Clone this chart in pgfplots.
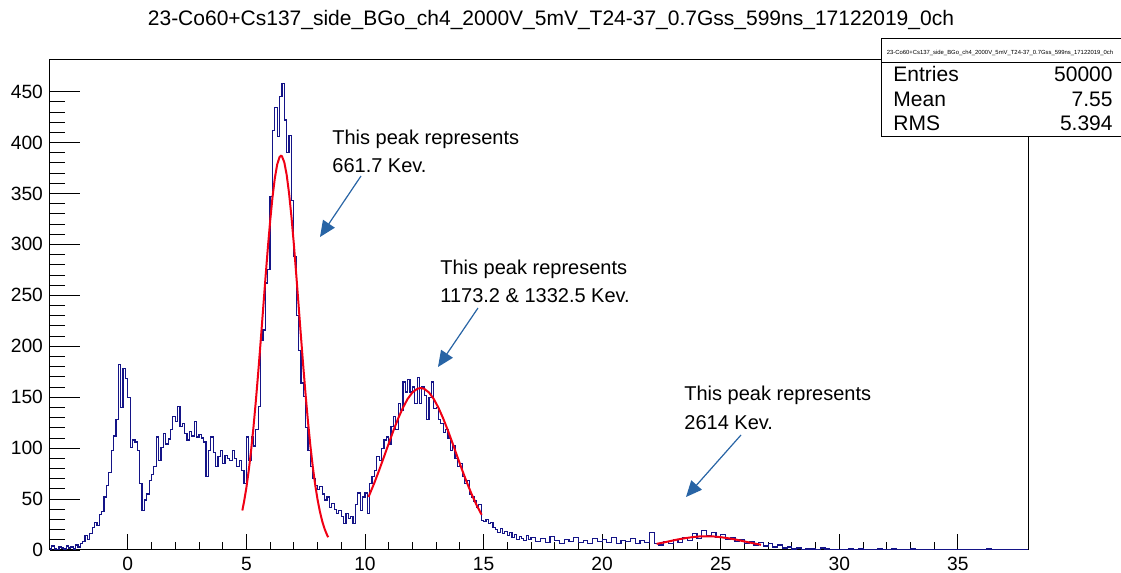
\documentclass[border=0pt]{standalone}
\usepackage{pgfplots}
\pgfplotsset{compat=1.18}
\usepackage{fontspec}
\setmainfont{Liberation Sans}
\usetikzlibrary{arrows.meta}
\definecolor{histblue}{RGB}{20,20,135}
\definecolor{fitred}{RGB}{240,0,20}
\definecolor{arrowblue}{RGB}{40,100,165}

\begin{document}
\begin{tikzpicture}
% 1 px of the reference = 0.5pt
\useasboundingbox (0,0) rectangle (560.5pt,286.5pt);
\begin{axis}[
  at={(25pt,11.5pt)}, anchor=south west,
  scale only axis, width=489.15pt, height=245pt,
  xmin=-3.28, xmax=37.97, ymin=0, ymax=481,
  xtick={0,5,...,35}, ytick={0,50,...,450},
  minor x tick num=4, minor y tick num=4,
  tick align=inside, xtick pos=bottom, ytick pos=left,
  xtick style={black, line width=0.4pt, /pgfplots/major tick length=8pt, /pgfplots/minor tick length=4pt},
  ytick style={black, line width=0.4pt, /pgfplots/major tick length=15pt, /pgfplots/minor tick length=7.5pt},
  tick label style={font=\fontsize{9.6pt}{11pt}\selectfont},
  /pgf/number format/assume math mode=true,
  axis line style={black, line width=0.5pt},
]
% histogram (bin left edges)
\addplot[const plot, histblue, line width=0.6pt] coordinates {
(-3.3,1) (-3.2,4) (-3.1,1) (-3.0,0) (-2.9,3) (-2.8,2) (-2.7,1) (-2.6,4) (-2.5,2) (-2.4,3)
(-2.3,1) (-2.2,5) (-2.1,3) (-2.0,6) (-1.9,8) (-1.8,14) (-1.7,10) (-1.6,16) (-1.5,22) (-1.4,27)
(-1.3,24) (-1.2,35) (-1.1,38) (-1.0,52) (-0.9,63) (-0.8,76) (-0.7,98) (-0.6,112) (-0.5,128) (-0.4,182)
(-0.3,140) (-0.2,178) (-0.1,168) (0.0,150) (0.1,101) (0.2,108) (0.3,106) (0.4,98) (0.5,65) (0.6,39)
(0.7,49) (0.8,55) (0.9,68) (1.0,74) (1.1,82) (1.2,111) (1.3,88) (1.4,101) (1.5,114) (1.6,104)
(1.7,109) (1.8,118) (1.9,131) (2.0,126) (2.1,141) (2.2,121) (2.3,124) (2.4,114) (2.5,108) (2.6,116)
(2.7,112) (2.8,126) (2.9,111) (3.0,113) (3.1,110) (3.2,106) (3.3,72) (3.4,98) (3.5,111) (3.6,96)
(3.7,82) (3.8,92) (3.9,98) (4.0,85) (4.1,93) (4.2,90) (4.3,88) (4.4,98) (4.5,90) (4.6,82)
(4.7,88) (4.8,78) (4.9,65) (5.0,111) (5.1,88) (5.2,111) (5.3,102) (5.4,118) (5.5,141) (5.6,206)
(5.7,216) (5.8,262) (5.9,275) (6.0,347) (6.1,412) (6.2,434) (6.3,406) (6.4,445) (6.5,458) (6.6,422)
(6.7,390) (6.8,407) (6.9,343) (7.0,288) (7.1,230) (7.2,196) (7.3,164) (7.4,151) (7.5,120) (7.6,98)
(7.7,82) (7.8,70) (7.9,63) (8.0,59) (8.1,62) (8.2,55) (8.3,49) (8.4,52) (8.5,42) (8.6,46)
(8.7,40) (8.8,36) (8.9,39) (9.0,33) (9.1,26) (9.2,36) (9.3,31) (9.4,33) (9.5,26) (9.6,45)
(9.7,56) (9.8,39) (9.9,52) (10.0,56) (10.1,36) (10.2,65) (10.3,72) (10.4,78) (10.5,92) (10.6,88)
(10.7,100) (10.8,108) (10.9,111) (11.0,104) (11.1,121) (11.2,131) (11.3,118) (11.4,144) (11.5,137) (11.6,165)
(11.7,155) (11.8,167) (11.9,155) (12.0,160) (12.1,144) (12.2,169) (12.3,144) (12.4,160) (12.5,152) (12.6,128)
(12.7,150) (12.8,165) (12.9,139) (13.0,140) (13.1,128) (13.2,124) (13.3,115) (13.4,118) (13.5,110) (13.6,98)
(13.7,102) (13.8,90) (13.9,82) (14.0,85) (14.1,72) (14.2,65) (14.3,68) (14.4,55) (14.5,52) (14.6,48)
(14.7,42) (14.8,45) (14.9,29) (15.0,28) (15.1,30) (15.2,26) (15.3,27) (15.4,22) (15.5,20) (15.6,17)
(15.7,21) (15.8,16) (15.9,18) (16.0,14) (16.1,17) (16.2,12) (16.3,15) (16.4,10) (16.5,13) (16.6,11)
(16.7,9) (16.8,14) (16.9,10)
(17.0,12) (17.2,8) (17.4,11) (17.6,7) (17.8,13) (18.0,9) (18.2,6) (18.4,10) (18.6,8) (18.8,12)
(19.0,7) (19.2,9) (19.4,6) (19.6,11) (19.8,8) (20.0,10) (20.2,7) (20.4,12) (20.6,6) (20.8,9)
(21.0,8) (21.2,11) (21.4,6) (21.6,9) (21.8,7) (22.0,17) (22.2,6) (22.4,5) (22.6,8) (22.8,6)
(23.0,10) (23.2,7) (23.4,12) (23.6,9) (23.8,16) (24.0,11) (24.2,19) (24.4,14) (24.6,17) (24.8,12)
(25.0,15) (25.2,10) (25.4,12) (25.6,8) (25.8,10) (26.0,6) (26.2,8) (26.4,5) (26.6,7) (26.8,4)
(27.0,6) (27.2,3) (27.4,5) (27.6,2) (27.8,3) (28.0,1) (28.2,2) (28.4,0) (28.6,1) (28.8,1)
(29.0,0) (29.2,2) (29.4,1) (29.6,0) (30.4,1) (30.6,0) (30.8,1) (31.0,0) (31.6,1) (31.8,0)
(32.2,1) (32.4,0) (33.0,1) (33.2,0) (36.2,1) (36.4,0) (37.97,0)
};
% gaussian fits
\addplot[fitred, line width=1pt] coordinates {
(4.83,38.8) (4.9,47.1) (5.0,61.1) (5.1,78.1) (5.2,97.9) (5.3,120.7) (5.4,146.3) (5.5,174.3)
(5.6,204.0) (5.7,234.7) (5.8,265.4) (5.9,295.0) (6.0,322.2) (6.1,345.9) (6.2,365.0) (6.3,378.5)
(6.4,385.8) (6.46,387) (6.5,386.5) (6.6,380.5) (6.7,368.2) (6.8,350.2) (6.9,327.3) (7.0,300.7)
(7.1,271.4) (7.2,240.9) (7.3,210.1) (7.4,180.1) (7.5,151.7) (7.6,125.6) (7.7,102.2) (7.8,81.8)
(7.9,64.3) (8.0,49.7) (8.1,37.7) (8.2,28.1) (8.3,20.6) (8.4,14.9) (8.45,12.6)
};
\addplot[fitred, line width=1pt] coordinates {
(10.15,52) (10.4,66.1) (10.6,78.4) (10.8,91.3) (11.0,104.4) (11.2,117.2) (11.4,129.1) (11.6,139.6)
(11.8,148.3) (12.0,154.6) (12.2,158.2) (12.35,159) (12.5,158.2) (12.7,154.6) (12.9,148.3) (13.1,139.6)
(13.3,129.1) (13.5,117.2) (13.7,104.4) (13.9,91.3) (14.1,78.4) (14.3,66.1) (14.5,54.7) (14.7,44.4) (14.92,34.6)
};
\addplot[fitred, line width=1pt] coordinates {
(22.3,6.0) (22.6,7.4) (22.9,8.9) (23.2,10.4) (23.5,11.6) (23.8,12.6) (24.1,13.3) (24.4,13.5)
(24.7,13.3) (25.0,12.6) (25.3,11.6) (25.6,10.4) (25.9,8.9) (26.2,7.4) (26.5,6.0) (26.7,5.1)
};
\end{axis}

% annotations in reference pixel coordinates
\begin{scope}[x=0.5pt, y=-0.5pt, shift={(0,286.5pt)}]
\node[anchor=base, inner sep=0pt, font=\fontsize{10.5pt}{12pt}\selectfont] at (551,26)
  {23-Co60+Cs137\_side\_BGo\_ch4\_2000V\_5mV\_T24-37\_0.7Gss\_599ns\_17122019\_0ch};

\begin{scope}[font=\fontsize{10pt}{12pt}\selectfont]
\node[anchor=base west, inner sep=0pt] at (332,145) {This peak represents};
\node[anchor=base west, inner sep=0pt] at (332,173) {661.7 Kev.};
\node[anchor=base west, inner sep=0pt] at (440,275) {This peak represents};
\node[anchor=base west, inner sep=0pt] at (440,303) {1173.2 \& 1332.5 Kev.};
\node[anchor=base west, inner sep=0pt] at (684,401) {This peak represents};
\node[anchor=base west, inner sep=0pt] at (684,430) {2614 Kev.};
\end{scope}

\begin{scope}[arrowblue, line width=0.6pt, -{Triangle[length=8pt,width=7pt]}]
\draw (361,176) -- (320,237);
\draw (478,308) -- (438,367);
\draw (741,435) -- (686,497);
\end{scope}

% statistics box
\fill[white] (881,39) rectangle (1130,137);
\node[anchor=base, inner sep=0pt, font=\fontsize{2.95pt}{4pt}\selectfont] at (1000,55)
  {23-Co60+Cs137\_side\_BGo\_ch4\_2000V\_5mV\_T24-37\_0.7Gss\_599ns\_17122019\_0ch};
\draw[black, line width=0.5pt] (881,39) rectangle (1130,137);
\draw[black, line width=0.5pt] (881,63) -- (1130,63);
\begin{scope}[font=\fontsize{10.5pt}{12pt}\selectfont]
\node[anchor=base west, inner sep=0pt] at (893,82) {Entries};
\node[anchor=base west, inner sep=0pt] at (893,107) {Mean};
\node[anchor=base west, inner sep=0pt] at (893,131) {RMS};
\node[anchor=base east, inner sep=0pt] at (1113,82) {50000};
\node[anchor=base east, inner sep=0pt] at (1113,107) {7.55};
\node[anchor=base east, inner sep=0pt] at (1113,131) {5.394};
\end{scope}
\end{scope}
\end{tikzpicture}
\end{document}
